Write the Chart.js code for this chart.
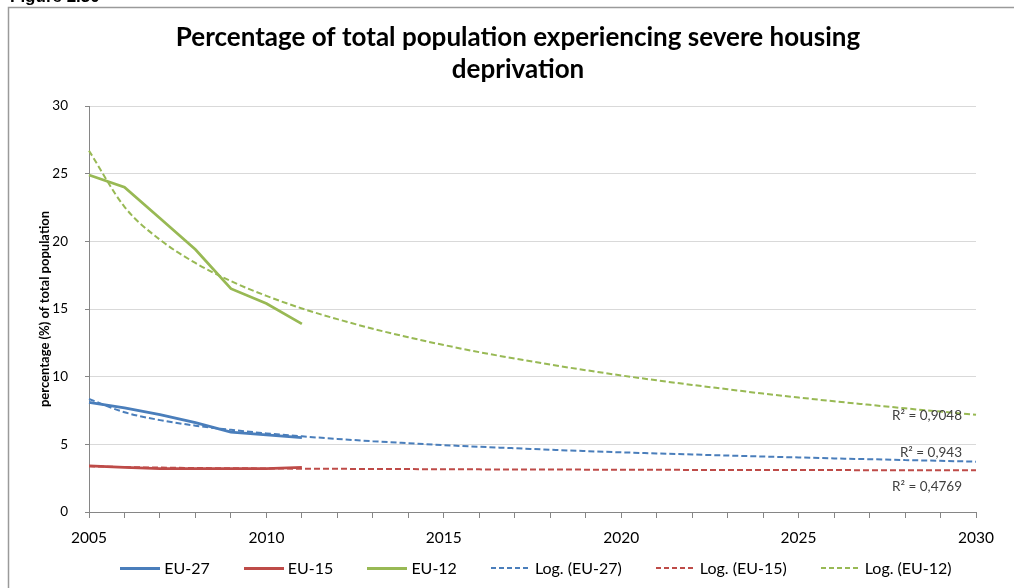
<!DOCTYPE html>
<html>
<head>
<meta charset="utf-8">
<script src="https://cdn.jsdelivr.net/npm/chart.js@4.4.1/dist/chart.umd.min.js"></script>
<style>
  html, body { margin: 0; padding: 0; background: #fff; overflow: hidden; }
  #wrap { position: relative; width: 1014px; height: 588px; }
  .legend { position: absolute; left: 100px; width: 872px; top: 558px; height: 20px;
    display: flex; justify-content: center; gap: 34px;
    font: 16px Lato, Calibri, "Open Sans", sans-serif; color: #000; line-height: 20px; }
  .legend .item { display: flex; align-items: center; white-space: nowrap; }
  .legend .swatch { width: 40px; margin-right: 4px; }
</style>
</head>
<body>
<div id="wrap">
  <canvas id="chart" width="1014" height="588"></canvas>
  <div id="legend" class="legend"></div>
</div>
<script>
// Severe housing deprivation, % of total population
const YEARS = ['2005', '2006', '2007', '2008', '2009', '2010', '2011', '2012', '2013',
  '2014', '2015', '2016', '2017', '2018', '2019', '2020', '2021', '2022', '2023',
  '2024', '2025', '2026', '2027', '2028', '2029', '2030'];

const EU27 = [8.1, 7.7, 7.2, 6.6, 5.9, 5.7, 5.5];
const EU15 = [3.4, 3.3, 3.2, 3.2, 3.2, 3.2, 3.3];
const EU12 = [24.9, 24.0, 21.7, 19.4, 16.5, 15.4, 13.9];

// logarithmic trend lines, one value per year 2005..2030
const LOG_EU27 = [8.35, 7.37, 6.79, 6.38, 6.07, 5.81, 5.59, 5.40, 5.23, 5.08, 4.94, 4.82, 4.71,
  4.60, 4.50, 4.41, 4.33, 4.25, 4.17, 4.10, 4.03, 3.96, 3.90, 3.84, 3.78, 3.72];
const LOG_EU15 = [3.38, 3.32, 3.28, 3.25, 3.23, 3.22, 3.20, 3.19, 3.18, 3.17, 3.16, 3.15, 3.14,
  3.14, 3.13, 3.12, 3.12, 3.11, 3.11, 3.10, 3.10, 3.10, 3.09, 3.09, 3.08, 3.08];
const LOG_EU12 = [26.7, 22.55, 20.12, 18.40, 17.06, 15.97, 15.04, 14.25, 13.54, 12.91, 12.34,
  11.81, 11.34, 10.89, 10.48, 10.09, 9.73, 9.39, 9.07, 8.75, 8.46, 8.18, 7.92, 7.66, 7.42, 7.18];

const R2_TEXT = ['R² = 0,9048', 'R² = 0,943', 'R² = 0,4769'];

const BLUE = '#4a7ebb', RED = '#be4b48', GREEN = '#98b954';
const FONT = 'Lato, Calibri, "Open Sans", sans-serif';

function solid(label, data, color) {
  return { label, data, borderColor: color, backgroundColor: color, borderWidth: 2.75,
    pointRadius: 0, tension: 0, order: 1 };
}
function trend(label, data, color) {
  return { label, data, borderColor: color, backgroundColor: color, borderWidth: 2,
    borderDash: [6, 3], pointRadius: 0, cubicInterpolationMode: 'monotone', order: 0 };
}

// cadre, intitulé de figure, titre et étiquettes R²
const chrome = {
  id: 'chrome',
  beforeDraw(chart) {
    const c = chart.ctx;
    c.save();
    c.fillStyle = '#fff';
    c.fillRect(0, 0, chart.width, chart.height);
    c.strokeStyle = '#9a9a9a';
    c.lineWidth = 1.5;
    c.beginPath();
    c.moveTo(8.5, chart.height);
    c.lineTo(8.5, 7.5);
    c.lineTo(chart.width, 7.5);
    c.stroke();
    c.fillStyle = '#000';
    c.font = 'bold 17px "Liberation Sans", Arial, sans-serif';
    c.textBaseline = 'alphabetic';
    c.fillText('Figure 2.30', 10, 2);
    c.restore();
  },
  afterDraw(chart) {
    const c = chart.ctx;
    const y = chart.scales.y;
    const right = chart.chartArea.right;
    c.save();
    c.fillStyle = '#000';
    c.textAlign = 'center';
    c.textBaseline = 'middle';
    c.font = 'bold 26px ' + FONT;
    c.fillText('Percentage of total population experiencing severe housing', 518, 38);
    c.fillText('deprivation', 518, 70);
    c.fillStyle = '#404040';
    c.font = '13.5px ' + FONT;
    c.textAlign = 'right';
    const anchors = [7.15, 4.42, 1.9];
    R2_TEXT.forEach((t, i) => c.fillText(t, right - 14, y.getPixelForValue(anchors[i])));
    c.restore();
  },
};

const chart = new Chart(document.getElementById('chart'), {
  type: 'line',
  data: {
    labels: YEARS,
    datasets: [
      solid('EU-27', EU27, BLUE),
      solid('EU-15', EU15, RED),
      solid('EU-12', EU12, GREEN),
      trend('Log. (EU-27)', LOG_EU27, BLUE),
      trend('Log. (EU-15)', LOG_EU15, RED),
      trend('Log. (EU-12)', LOG_EU12, GREEN),
    ],
  },
  plugins: [chrome],
  options: {
    responsive: false,
    devicePixelRatio: 1,
    animation: false,
    layout: { padding: { left: 33, right: 38, top: 106, bottom: 40 } },
    plugins: {
      title: { display: false },
      tooltip: { enabled: false },
      legend: { display: false },
    },
    scales: {
      x: {
        offset: false,
        grid: { drawOnChartArea: false, tickLength: 6, color: '#868686' },
        border: { color: '#868686' },
        ticks: {
          autoSkip: false, maxRotation: 0, padding: 11, color: '#000',
          font: { size: 15.5, family: FONT },
          callback: (v, i) => (i % 5 === 0 ? YEARS[i] : ''),
        },
        afterFit: (s) => { s.height = 36; },
      },
      y: {
        min: 0, max: 30,
        grid: { color: '#d9d9d9', tickColor: '#868686', tickLength: 4 },
        border: { color: '#868686' },
        ticks: { stepSize: 5, padding: 17, color: '#000', font: { size: 13.5, family: FONT } },
        title: {
          display: true, text: 'percentage (%) of total population', color: '#000',
          font: { size: 13, weight: 'bold', family: FONT }, padding: { top: 4, bottom: 4 },
        },
        afterFit: (s) => { s.width = 56; },
      },
    },
  },
});

// légende HTML : trait plein ou tireté selon la série
function renderLegend(containerId, datasets) {
  const el = document.getElementById(containerId);
  el.innerHTML = datasets.map((d) => {
    const c = d.borderColor;
    const bg = d.borderDash
      ? `repeating-linear-gradient(to right, ${c} 0 5px, transparent 5px 8px)`
      : c;
    const h = d.borderDash ? 2 : 3;
    return `<div class="item"><span class="swatch" style="height:${h}px;background:${bg}"></span>${d.label}</div>`;
  }).join('');
}
renderLegend('legend', chart.data.datasets);
</script>
</body>
</html>
